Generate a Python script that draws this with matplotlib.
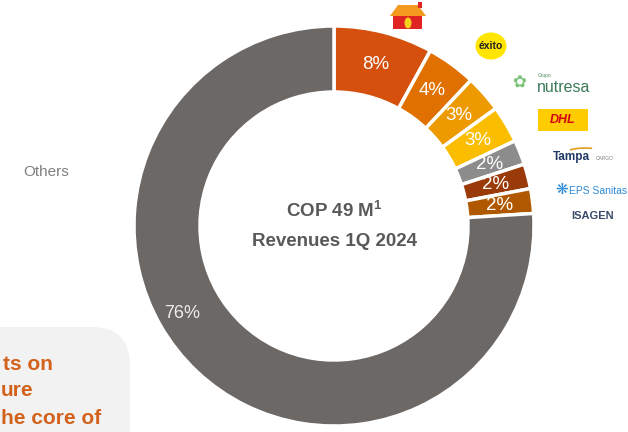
import numpy as np
import matplotlib.pyplot as plt
from matplotlib.patches import FancyBboxPatch, Ellipse, Polygon, Rectangle, Arc

plt.rcParams['font.family'] = ['Liberation Sans', 'DejaVu Sans']

# revenue share by client, 1Q 2024
shares = [8, 4, 3, 3, 2, 2, 2, 76]
labels = ['8%', '4%', '3%', '3%', '2%', '2%', '2%', '76%']
colors = ['#d4500c', '#e07000', '#ed9a00', '#fbbd00', '#8c8c8c',
          '#9a3a08', '#b05800', '#6b6866']

W, H = 628, 432
fig = plt.figure(figsize=(W / 100, H / 100), dpi=100)
ax = fig.add_axes([0, 0, 1, 1])

def Y(y):
    return H - y

cx, cy, R, r = 334, Y(226), 200, 134
wedges, _ = ax.pie(shares, colors=colors, startangle=90, counterclock=False,
                   radius=R, center=(cx, cy),
                   wedgeprops=dict(width=R - r, edgecolor='white', linewidth=2.5))

mid_r = (R + r) / 2
for w, lab in zip(wedges[:-1], labels[:-1]):
    ang = np.deg2rad((w.theta1 + w.theta2) / 2)
    ax.text(cx + mid_r * np.cos(ang), cy + mid_r * np.sin(ang), lab,
            ha='center', va='center', color='white', fontsize=13.5)
ax.text(182, Y(313), labels[-1], ha='center', va='center', color='#ececec', fontsize=13)

# centre text
ax.text(cx, Y(211), 'COP 49 M$^{\\mathregular{1}}$', ha='center', va='center',
        fontsize=13.5, fontweight='bold', color='#595959')
ax.text(cx, Y(241), 'Revenues 1Q 2024', ha='center', va='center',
        fontsize=13.5, fontweight='bold', color='#595959')

ax.text(46, Y(172), 'Others', ha='center', va='center', fontsize=11, color='#7f7f7f')

# bottom-left callout box (cut by the figure edge)
box = FancyBboxPatch((-60, Y(470)), 190, 143, boxstyle='round,pad=0,rounding_size=38',
                     facecolor='#f2f2f2', edgecolor='none')
ax.add_patch(box)
for txt, x, y in [('ts on', 3, 365), ('ure', 1, 391), ('he core of', 1, 419)]:
    ax.text(x, Y(y), txt, ha='left', va='center', fontsize=15,
            fontweight='bold', color='#d2621c')

# --- client "logos" ---
# house
ax.add_patch(Rectangle((393, Y(29)), 29, 14, facecolor='#e02424', edgecolor='none'))
ax.add_patch(Polygon([(390, Y(16)), (398, Y(5)), (418, Y(5)), (426, Y(16))],
                     facecolor='#f39a1e', edgecolor='none'))
ax.add_patch(Rectangle((418, Y(8)), 4, 6, facecolor='#e02424', edgecolor='none'))
ax.add_patch(Ellipse((408, Y(23)), 7, 11, facecolor='#f7d21c', edgecolor='none'))
# exito
ax.add_patch(Ellipse((491, Y(46)), 31, 27, facecolor='#ffe500', edgecolor='none'))
ax.text(491, Y(46), 'éxito', ha='center', va='center', fontsize=7.5,
        fontweight='bold', color='#222222')
# nutresa
ax.text(519, Y(83), '✿', ha='center', va='center', fontsize=12, color='#7cc47a',
        family=['DejaVu Sans'])
ax.text(538, Y(76), 'Grupo', ha='left', va='center', fontsize=3.5, color='#4a8a5a')
ax.text(537, Y(88), 'nutresa', ha='left', va='center', fontsize=11.5, color='#3c7a5a')
# DHL
ax.add_patch(Rectangle((538, Y(131)), 50, 22, facecolor='#ffcc00', edgecolor='none'))
ax.text(563, Y(120), 'DHL', ha='center', va='center', fontsize=9,
        fontweight='bold', style='italic', color='#d40511')
# Tampa cargo
ax.add_patch(Arc((585, Y(168)), 70, 40, theta1=70, theta2=130, color='#e0a020', lw=1.2))
ax.text(553, Y(157), 'Tampa', ha='left', va='center', fontsize=8.5,
        fontweight='bold', color='#1f3864')
ax.text(596, Y(158), 'CARGO', ha='left', va='center', fontsize=3.5, color='#7f7f7f')
# EPS Sanitas / Isagen
ax.text(562, Y(189), '❋', ha='center', va='center', fontsize=11, color='#2e8bd8',
        family=['DejaVu Sans'])
ax.text(569, Y(191), 'EPS Sanitas', ha='left', va='center', fontsize=7.5, color='#2e8bd8')
ax.text(593, Y(216), 'ISAGEN', ha='center', va='center', fontsize=8,
        fontweight='bold', color='#3a4a6a')

ax.set_xlim(0, W)
ax.set_ylim(0, H)
ax.set_aspect('auto')
ax.axis('off')

fig.savefig('out.png', dpi=100)
